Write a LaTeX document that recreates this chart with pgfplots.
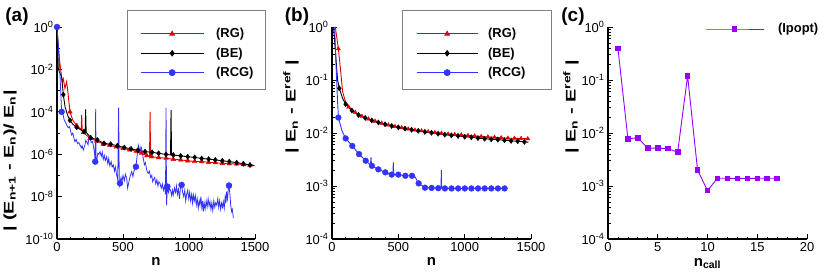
\documentclass[border=0pt]{standalone}
\usepackage{fontspec}
\setmainfont{Liberation Sans}
\usepackage{graphicx}
\usepackage{pgfplots}
\pgfplotsset{compat=1.18}
\definecolor{cRG}{RGB}{225,0,0}
\definecolor{cBE}{RGB}{0,0,0}
\definecolor{cRCG}{RGB}{51,51,255}
\definecolor{cIP}{RGB}{150,0,255}

\pgfplotsset{
 base/.style={
  scale only axis,
  anchor=south west,
  axis lines=left,
  axis line style={-, line width=1.3bp},
  tick align=inside,
  major tick length=5bp,
  minor tick length=2.5bp,
  every tick/.style={black, line width=0.8bp},
  tick label style={font=\fontsize{13}{15}\selectfont},
  label style={font=\bfseries\fontsize{15}{18}\selectfont},
  clip=false,
  legend cell align=left,
  legend style={font=\bfseries\fontsize{13}{15.6}\selectfont, draw=none, fill=none, anchor=west, inner sep=0pt, row sep=4.5bp},
 },
 sRG/.style={color=cRG, line width=0.9bp},
 sBE/.style={color=cBE, line width=0.9bp},
 sRCG/.style={color=cRCG, line width=0.9bp},
 mRG/.style={only marks, mark=triangle*, mark size=2.6bp, color=cRG},
 mBE/.style={only marks, mark=diamond*, mark size=2.6bp, color=cBE},
 mRCG/.style={only marks, mark=*, mark size=3bp, color=cRCG},
}

\begin{document}
\begin{tikzpicture}
\path[use as bounding box] (0,0) rectangle (830bp,280bp);

% legend frames
\draw[gray, line width=0.6bp] (127bp,191bp) rectangle (265bp,270bp);
\draw[gray, line width=0.6bp] (402bp,191bp) rectangle (551bp,270bp);

% ---------------- (a) ----------------
\begin{axis}[base, at={(57bp,41bp)}, width=198bp, height=212bp,
  xmin=0, xmax=1500, ymode=log, ymin=1e-10, ymax=1,
  xtick={0,500,1000,1500}, xticklabels={0,500,1000,1500}, minor x tick num=4,
  ytick={1,1e-2,1e-4,1e-6,1e-8,1e-10},
  yticklabels={10\textsuperscript{0},10\textsuperscript{-2},10\textsuperscript{-4},10\textsuperscript{-6},10\textsuperscript{-8},10\textsuperscript{-10}},
  minor ytick={1e-1,1e-3,1e-5,1e-7,1e-9},
  xlabel={n},
  xlabel style={at={(axis description cs:0.5,-0.108)}, anchor=center},
  ylabel={\scalebox{1.42}[1]{| (E\textsubscript{n+1} - E\textsubscript{n})/ E\textsubscript{n}|}},
  ylabel style={at={(axis description cs:-0.237,0.368)}, anchor=center, font=\bfseries\fontsize{14}{16}\selectfont},
  legend image code/.code={\draw[mark repeat=2,mark phase=2] plot coordinates {(0bp,0bp) (31.5bp,0bp) (63bp,0bp)};},
  legend style={at={(rel axis cs:0.4192,0.876)}, /tikz/every odd column/.append style={column sep=10bp}},
]
\addlegendimage{sRG, mark=triangle*, mark size=2.6bp}
\addlegendentry{(RG)}
\addlegendimage{sBE, mark=diamond*, mark size=2.6bp}
\addlegendentry{(BE)}
\addlegendimage{sRCG, mark=*, mark size=3bp}
\addlegendentry{(RCG)}

\addplot[sRG, forget plot] coordinates {
(3,5e-1)(10,1.38e-1)(20,2.5e-2)(30,7.9e-3)(40,2.5e-3)(48,3.6e-3)(60,1.26e-3)(73,2.6e-3)(85,6.3e-4)(98,1.0e-4)
(120,4.0e-5)(150,2.2e-5)(183,1.5e-5)(187,7.1e-5)(191,1.4e-5)(200,1.07e-5)(250,5.6e-6)(300,4.2e-6)(350,3.0e-6)
(400,2.6e-6)(450,2.2e-6)(500,1.86e-6)(550,1.62e-6)(600,1.38e-6)(640,1.12e-6)(680,8.5e-7)(701,7.9e-7)(705,1.0e-4)
(709,7.8e-7)(717,7.6e-7)(770,6.9e-7)(826,6.5e-7)(881,5.75e-7)(937,5.37e-7)(990,4.9e-7)(1043,4.57e-7)(1096,4.47e-7)
(1149,4.17e-7)(1199,3.98e-7)(1252,3.72e-7)(1305,3.55e-7)(1361,3.47e-7)(1412,3.24e-7)(1462,3.02e-7)(1495,2.9e-7)};
\addplot[mRG, forget plot] coordinates {
(98,1.0e-4)(150,2.2e-5)(200,1.07e-5)(250,5.6e-6)(300,4.2e-6)(350,3.0e-6)(400,2.6e-6)(450,2.2e-6)(500,1.86e-6)
(550,1.62e-6)(600,1.38e-6)(640,1.12e-6)(680,8.5e-7)(717,7.6e-7)(770,6.9e-7)(826,6.5e-7)(881,5.75e-7)(937,5.37e-7)
(990,4.9e-7)(1043,4.57e-7)(1096,4.47e-7)(1149,4.17e-7)(1199,3.98e-7)(1252,3.72e-7)(1305,3.55e-7)(1361,3.47e-7)
(1412,3.24e-7)(1462,3.02e-7)};

\addplot[sBE, forget plot] coordinates {
(3,1)(6,1e-1)(10,1.07e-2)(20,7e-3)(35,4.4e-3)(48,6.46e-4)(61,1.7e-4)(80,7e-5)(98,3.98e-5)(120,2.6e-5)(149,1.86e-5)
(180,1.4e-5)(205,1.15e-5)(213,1.1e-5)(217,1.3e-4)(221,1.08e-5)(255,6.03e-6)(306,4.68e-6)(356,3.24e-6)(407,2.95e-6)
(457,2.51e-6)(510,2.04e-6)(561,1.78e-6)(614,1.51e-6)(667,1.32e-6)(720,1.23e-6)(770,1.10e-6)(826,9.77e-7)(860,9.3e-7)
(864,1.2e-4)(868,9.2e-7)(881,9.12e-7)(937,8.32e-7)(990,7.59e-7)(1043,7.08e-7)(1096,6.31e-7)(1149,5.89e-7)(1199,5.37e-7)
(1252,4.90e-7)(1305,4.47e-7)(1361,3.98e-7)(1412,3.55e-7)(1462,3.09e-7)(1495,3.0e-7)};
\addplot[mBE, forget plot] coordinates {
(48,6.46e-4)(98,3.98e-5)(149,1.86e-5)(205,1.15e-5)(255,6.03e-6)(306,4.68e-6)(356,3.24e-6)(407,2.95e-6)(457,2.51e-6)
(510,2.04e-6)(561,1.78e-6)(614,1.51e-6)(667,1.32e-6)(720,1.23e-6)(770,1.10e-6)(826,9.77e-7)(881,9.12e-7)(937,8.32e-7)
(990,7.59e-7)(1043,7.08e-7)(1096,6.31e-7)(1149,5.89e-7)(1199,5.37e-7)(1252,4.90e-7)(1305,4.47e-7)(1361,3.98e-7)
(1412,3.55e-7)(1462,3.09e-7)};

\addplot[color=cRCG, line width=0.8bp, forget plot] coordinates {
(0,1)(5,3.16e-1)(10,1.38e-1)(15,3.98e-2)(20,1.35e-2)(25,2.51e-3)(30,5.01e-4)(35,1.0e-4)(45,7.94e-5)(55,3.98e-5)
(65,3.16e-5)(73,2.40e-5)(85,1.78e-5)(95,2.0e-5)(105,1.12e-5)(111,8.13e-6)(120,1.0e-5)(130,5.01e-6)(136,3.89e-6)
(145,5.01e-6)(155,3.16e-6)(165,3.55e-6)(174,2.69e-6)(185,2.0e-6)(190,2.51e-6)(199,1.58e-6)(210,2.51e-6)(218,4.47e-6)
(225,3.89e-6)(235,2.82e-6)(242,6.31e-6)(250,5.62e-6)(260,3.55e-6)(268,3.98e-6)(275,2.69e-6)(283,1.26e-6)(290,4.47e-7)
(293,1.35e-4)(296,5.01e-7)(303,6.31e-7)(310,1.12e-6)(318,1.0e-6)(326,1.32e-6)(335,7.94e-7)(343,1.26e-6)(350,5.62e-7)
(358,8.91e-7)(366,5.01e-7)(376,7.59e-7)(385,3.55e-7)(392,6.31e-7)(400,2.82e-7)(410,4.47e-7)(418,2.51e-7)(427,3.09e-7)
(435,1.58e-7)(442,2.51e-7)(452,1.05e-7)(460,6.31e-8)(467,1.58e-4)(472,3.16e-8)(477,4.27e-8)(485,7.94e-8)(492,5.01e-8)
(500,1.0e-7)(510,5.62e-8)(518,1.12e-7)(528,7.24e-8)(535,2.51e-8)(540,3.55e-8)(548,6.31e-8)(556,1.0e-7)(566,1.51e-7)
(575,8.91e-8)(583,1.58e-7)(590,2.0e-7)(598,2.57e-7)(605,6.31e-7)(610,1.26e-6)(616,2.69e-6)(622,2.0e-6)(630,1.26e-6)
(636,2.24e-6)(641,1.91e-6)(648,1.0e-6)(654,6.31e-7)(662,3.16e-7)(670,3.98e-7)(678,2.0e-7)(685,1.41e-7)(692,1.26e-7)
(700,1.58e-7)(710,7.94e-8)(718,1.0e-7)(725,5.01e-8)(730,6.03e-8)(740,7.94e-8)(748,3.98e-8)(757,6.31e-8)(765,3.16e-8)
(772,5.01e-8)(780,4.27e-8)(790,2.51e-8)(798,3.98e-8)(806,2.0e-8)(815,3.16e-8)(822,1.26e-8)(826,1.58e-4)(830,3.98e-9)
(836,2.95e-8)(845,1.58e-8)(852,2.51e-8)(860,2.0e-8)(868,1.12e-8)(875,2.0e-8)(881,1.20e-8)(890,2.51e-8)(898,1.58e-8)
(905,3.16e-8)(912,1.26e-8)(920,2.24e-8)(928,7.94e-9)(935,2.51e-8)(944,3.55e-8)(952,1.58e-8)(960,1.0e-8)(968,2.0e-8)
(975,6.31e-9)(982,1.26e-8)(990,2.0e-8)(998,7.94e-9)(1005,1.58e-8)(1012,6.31e-9)(1020,1.26e-8)(1027,5.01e-9)(1033,1.20e-8)
(1040,6.31e-9)(1048,1.12e-8)(1055,3.98e-9)(1062,7.94e-9)(1070,2.82e-9)(1077,6.31e-9)(1083,3.98e-9)(1090,1.0e-8)
(1097,3.16e-9)(1103,6.31e-9)(1108,1.95e-9)(1115,5.01e-9)(1122,2.51e-9)(1130,6.31e-9)(1137,3.16e-9)(1145,7.94e-9)
(1152,3.55e-9)(1159,5.75e-9)(1166,2.51e-9)(1173,5.01e-9)(1180,2.24e-9)(1188,6.31e-9)(1195,3.16e-9)(1202,5.01e-9)
(1210,3.98e-9)(1218,7.94e-9)(1225,3.16e-9)(1232,6.31e-9)(1240,2.51e-9)(1247,5.01e-9)(1254,3.16e-9)(1260,5.75e-9)
(1267,2.82e-9)(1274,1.0e-8)(1280,5.01e-9)(1285,1.70e-8)(1292,7.94e-9)(1298,2.51e-8)(1303,3.31e-8)(1310,1.26e-8)
(1316,3.98e-9)(1322,2.0e-9)(1328,2.51e-9)(1336,1.0e-9)};
\addplot[mRCG, forget plot] coordinates {
(0,1)(35,1.0e-4)(290,4.47e-7)(477,4.27e-8)(598,2.57e-7)(836,2.95e-8)(944,3.55e-8)(1303,3.31e-8)};
\end{axis}

% ---------------- (b) ----------------
\begin{axis}[base, at={(332bp,41bp)}, width=199bp, height=212bp,
  xmin=0, xmax=1500, ymode=log, ymin=1e-4, ymax=1,
  xtick={0,500,1000,1500}, xticklabels={0,500,1000,1500}, minor x tick num=4,
  ytick={1,1e-1,1e-2,1e-3,1e-4},
  yticklabels={10\textsuperscript{0},10\textsuperscript{-1},10\textsuperscript{-2},10\textsuperscript{-3},10\textsuperscript{-4}},
  minor ytick={2e-4,3e-4,4e-4,5e-4,6e-4,7e-4,8e-4,9e-4,2e-3,3e-3,4e-3,5e-3,6e-3,7e-3,8e-3,9e-3,
               2e-2,3e-2,4e-2,5e-2,6e-2,7e-2,8e-2,9e-2,2e-1,3e-1,4e-1,5e-1,6e-1,7e-1,8e-1,9e-1},
  xlabel={n},
  xlabel style={at={(axis description cs:0.5,-0.108)}, anchor=center},
  ylabel={\scalebox{1.42}[1]{| E\textsubscript{n} - E\textsuperscript{ref} |}},
  ylabel style={at={(axis description cs:-0.206,0.625)}, anchor=center, font=\bfseries\fontsize{14}{16}\selectfont},
  legend image code/.code={\draw[mark repeat=2,mark phase=2] plot coordinates {(0bp,0bp) (30.5bp,0bp) (61bp,0bp)};},
  legend style={at={(rel axis cs:0.4221,0.876)}, /tikz/every odd column/.append style={column sep=8bp}},
]
\addlegendimage{sRG, mark=triangle*, mark size=2.6bp}
\addlegendentry{(RG)}
\addlegendimage{sBE, mark=diamond*, mark size=2.6bp}
\addlegendentry{(BE)}
\addlegendimage{sRCG, mark=*, mark size=3bp}
\addlegendentry{(RCG)}

\addplot[sRG, forget plot] coordinates {
(25,1.0)(48,0.39)(65,0.15)(80,0.06)(103,0.038)(125,0.031)(175,0.0245)(225,0.0207)(275,0.0184)(325,0.0167)(375,0.0153)
(425,0.0142)(475,0.0133)(525,0.0126)(575,0.0119)(625,0.0114)(675,0.0110)(725,0.0106)(775,0.0102)(825,0.0099)(875,0.0096)
(925,0.0094)(975,0.0092)(1025,0.0090)(1075,0.0088)(1125,0.0086)(1175,0.00845)(1225,0.0083)(1275,0.00815)(1325,0.0080)
(1375,0.00795)(1425,0.0079)(1475,0.0078)(1490,0.0078)};
\addplot[mRG, mark size=2.3bp, forget plot] coordinates {
(48,0.39)(125,0.031)(175,0.0245)(225,0.0207)(275,0.0184)(325,0.0167)(375,0.0153)(425,0.0142)(475,0.0133)(525,0.0126)
(575,0.0119)(625,0.0114)(675,0.0110)(725,0.0106)(775,0.0102)(825,0.0099)(875,0.0096)(925,0.0094)(975,0.0092)(1025,0.0090)
(1075,0.0088)(1125,0.0086)(1175,0.00845)(1225,0.0083)(1275,0.00815)(1325,0.0080)(1375,0.00795)(1425,0.0079)(1475,0.0078)};

\addplot[sBE, forget plot] coordinates {
(12,1.0)(30,0.25)(42,0.1)(55,0.0697)(80,0.045)(103,0.035)(150,0.0265)(200,0.0219)(250,0.0193)(300,0.0173)(350,0.0158)
(400,0.0146)(450,0.0136)(500,0.0128)(550,0.0121)(600,0.0115)(650,0.0110)(700,0.0105)(750,0.0101)(800,0.0097)(850,0.0093)
(900,0.0090)(950,0.0088)(1000,0.0085)(1050,0.0083)(1100,0.0080)(1150,0.0078)(1200,0.0076)(1250,0.0075)(1300,0.0073)
(1350,0.0071)(1400,0.0070)(1450,0.0068)(1480,0.0067)};
\addplot[mBE, forget plot] coordinates {
(55,0.0697)(103,0.035)(150,0.0265)(200,0.0219)(250,0.0193)(300,0.0173)(350,0.0158)(400,0.0146)(450,0.0136)(500,0.0128)
(550,0.0121)(600,0.0115)(650,0.0110)(700,0.0105)(750,0.0101)(800,0.0097)(850,0.0093)(900,0.0090)(950,0.0088)(1000,0.0085)
(1050,0.0083)(1100,0.0080)(1150,0.0078)(1200,0.0076)(1250,0.0075)(1300,0.0073)(1350,0.0071)(1400,0.0070)(1450,0.0068)};

\addplot[sRCG, forget plot] coordinates {
(20,1.0)(30,0.2)(40,0.05)(48,0.0196)(75,0.011)(103,0.0079)(153,0.0057)(204,0.0040)(254,0.0030)(290,0.0025)(294,0.0035)
(298,0.0024)(301,0.0024)(349,0.00206)(402,0.00181)(450,0.00164)(459,0.00164)(462,0.0028)(465,0.00164)(500,0.00164)
(553,0.00156)(603,0.00156)(625,0.00150)(653,0.00112)(701,0.00093)(751,0.00092)(801,0.00091)(822,0.00091)(824,0.0020)
(826,0.00091)(851,0.0009)(901,0.0009)(951,0.0009)(1001,0.0009)(1051,0.0009)(1101,0.0009)(1151,0.0009)(1201,0.0009)
(1251,0.0009)(1301,0.0009)(1320,0.0009)};
\addplot[mRCG, mark size=2.9bp, forget plot] coordinates {
(48,0.0196)(103,0.0079)(153,0.0057)(204,0.0040)(254,0.0030)(301,0.0024)(349,0.00206)(402,0.00181)(450,0.00164)(500,0.00164)
(553,0.00156)(603,0.00156)(653,0.00112)(701,0.00093)(751,0.00092)(801,0.00091)(851,0.0009)(901,0.0009)(951,0.0009)
(1001,0.0009)(1051,0.0009)(1101,0.0009)(1151,0.0009)(1201,0.0009)(1251,0.0009)(1301,0.0009)};
\end{axis}

% ---------------- (c) ----------------
\begin{axis}[base, at={(608bp,41bp)}, width=199bp, height=212bp,
  xmin=0, xmax=20, ymode=log, ymin=1e-4, ymax=1,
  xtick={0,5,10,15,20}, xticklabels={0,5,10,15,20}, minor x tick num=4,
  ytick={1,1e-1,1e-2,1e-3,1e-4},
  yticklabels={10\textsuperscript{0},10\textsuperscript{-1},10\textsuperscript{-2},10\textsuperscript{-3},10\textsuperscript{-4}},
  minor ytick={2e-4,3e-4,4e-4,5e-4,6e-4,7e-4,8e-4,9e-4,2e-3,3e-3,4e-3,5e-3,6e-3,7e-3,8e-3,9e-3,
               2e-2,3e-2,4e-2,5e-2,6e-2,7e-2,8e-2,9e-2,2e-1,3e-1,4e-1,5e-1,6e-1,7e-1,8e-1,9e-1},
  xlabel={n\textsubscript{call}},
  xlabel style={at={(axis description cs:0.5,-0.115)}, anchor=center},
  ylabel={\scalebox{1.42}[1]{| E\textsubscript{n} - E\textsuperscript{ref} |}},
  ylabel style={at={(axis description cs:-0.186,0.625)}, anchor=center, font=\bfseries\fontsize{14}{16}\selectfont},
  legend image code/.code={\draw[mark repeat=2,mark phase=2] plot coordinates {(0bp,0bp) (29bp,0bp) (58bp,0bp)};},
  legend style={at={(rel axis cs:0.487,0.9906)}, /tikz/every odd column/.append style={column sep=12bp}},
]
\addplot[color=cIP, line width=0.9bp, mark=square*, mark size=2.3bp] coordinates {
(1,0.395)(2,0.0078)(3,0.0081)(4,0.00517)(5,0.00517)(6,0.0051)(7,0.00434)(8,0.120)(9,0.0020)(10,0.00082)
(11,0.0014)(12,0.0014)(13,0.00139)(14,0.00139)(15,0.0014)(16,0.0014)(17,0.0014)};
\addlegendentry{(Ipopt)}
\end{axis}

\node[font=\bfseries\fontsize{19}{22}\selectfont] at (17bp,263bp) {(a)};
\node[font=\bfseries\fontsize{19}{22}\selectfont] at (297bp,263bp) {(b)};
\node[font=\bfseries\fontsize{19}{22}\selectfont] at (573bp,263bp) {(c)};
\end{tikzpicture}
\end{document}
